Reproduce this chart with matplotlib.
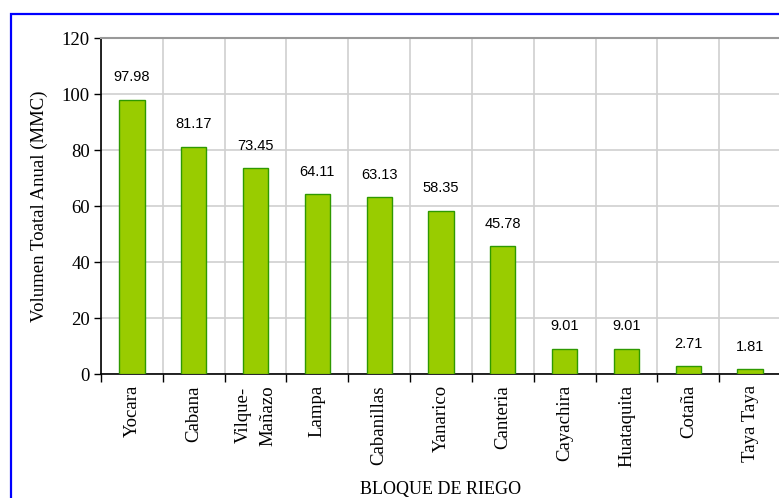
import matplotlib
matplotlib.use("Agg")
import matplotlib.pyplot as plt
from matplotlib.patches import Rectangle
import numpy as np

# datos
bloques = ["Yocara", "Cabana", "Vilque-\nMañazo", "Lampa", "Cabanillas", "Yanarico",
           "Canteria", "Cayachira", "Huataquita", "Cotaña", "Taya Taya"]
volumen = [97.98, 81.17, 73.45, 64.11, 63.13, 58.35, 45.78, 9.01, 9.01, 2.71, 1.81]
etiquetas = ["97.98", "81.17", "73.45", "64.11", "63.13", "58.35", "45.78",
             "9.01", "9.01", "2.71", "1.81"]

fig = plt.figure(figsize=(7.79, 4.98), dpi=100)
ax = fig.add_axes([101 / 779, 1 - 374 / 498, 680 / 779, 336 / 498])

x = np.arange(len(bloques))
ax.bar(x, volumen, width=0.41, color="#99CC00", edgecolor="#2E9900", linewidth=1.0, zorder=3)

for xi, v, t in zip(x, volumen, etiquetas):
    ax.annotate(t, (xi, v), xytext=(0, 11), textcoords="offset points",
                ha="center", va="bottom", fontsize=10.5, family="Liberation Sans")

ax.set_xlim(-0.5, len(bloques) - 0.5)
ax.set_ylim(0, 120)
ax.set_yticks(range(0, 121, 20))
ax.tick_params(axis="y", labelsize=13.5, direction="out", length=5, width=1, pad=3)
for lab in ax.get_yticklabels():
    lab.set_family("Liberation Serif")

# ticks del eje x en los bordes de categorías, etiquetas al centro
ax.set_xticks(np.arange(len(bloques) + 1) - 0.5)
ax.set_xticklabels([])
ax.set_xticks(x, minor=True)
ax.set_xticklabels(bloques, minor=True, rotation=90, fontsize=13.5,
                   family="Liberation Serif", linespacing=1.55)
ax.tick_params(axis="x", which="major", direction="out", length=6, width=1)
ax.tick_params(axis="x", which="minor", length=0, pad=8)

ax.grid(True, which="major", color="#D0D0D0", linewidth=1.2, zorder=0)
ax.set_axisbelow(True)
ax.spines["right"].set_visible(False)
ax.spines["top"].set_color("#999999")
ax.spines["top"].set_linewidth(1.5)
ax.spines["left"].set_color("black")
ax.spines["bottom"].set_color("black")
ax.spines["left"].set_linewidth(1.2)
ax.spines["bottom"].set_linewidth(1.2)

ax.set_ylabel("Volumen Toatal Anual (MMC)", fontsize=13.5, family="Liberation Serif", labelpad=10)
ax.set_xlabel("BLOQUE DE RIEGO", fontsize=13, family="Liberation Serif", labelpad=10)

# marco azul
fig.patches.append(Rectangle((11 / 779, -0.05), 1.0, 1 - 14 / 498 + 0.05,
                             transform=fig.transFigure, fill=False,
                             edgecolor="#0000FF", linewidth=1.6))

fig.savefig("out.png", dpi=100)
